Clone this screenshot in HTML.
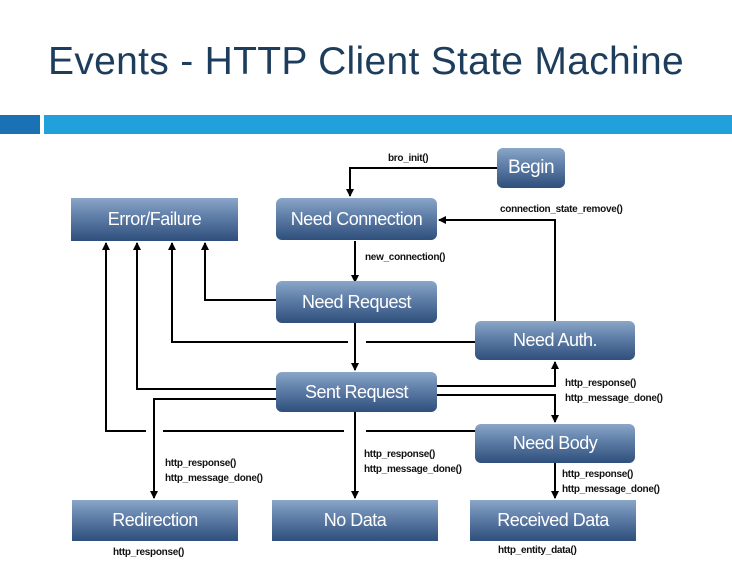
<!DOCTYPE html>
<html><head><style>
body{margin:0;width:732px;height:569px;background:#fff;position:relative;overflow:hidden;font-family:"Liberation Sans",sans-serif}
.t{position:absolute;left:0;width:732px;top:40px;text-align:center;font-size:39px;color:#1d3d5c;letter-spacing:0.3px}
.b{position:absolute;color:#fff;font-size:18px;display:flex;align-items:center;justify-content:center;background:linear-gradient(#8aa6c8,#5d7ca6 45%,#2f4f7c);box-sizing:border-box;letter-spacing:-0.5px}
.r{border-radius:6px}
.l{position:absolute;font-size:10px;font-weight:bold;color:#111;line-height:15px;letter-spacing:-0.3px}
</style></head><body>
<div class="t">Events - HTTP Client State Machine</div>
<div style="position:absolute;left:0;top:115px;width:40px;height:19px;background:#1a72b5"></div>
<div style="position:absolute;left:44px;top:115px;width:688px;height:19px;background:#22a0dc"></div>
<svg width="732" height="569" style="position:absolute;left:0;top:0">
<defs><marker id="a" markerWidth="8" markerHeight="8" refX="7" refY="4" orient="auto" markerUnits="userSpaceOnUse"><path d="M0,0 L8,4 L0,8 Z" fill="#000"/></marker></defs>
<g stroke="#000" stroke-width="2" fill="none">
<path d="M497,168 H350 V196" marker-end="url(#a)"/>
<path d="M355,241 V282" marker-end="url(#a)"/>
<path d="M555,321 V220 H439" marker-end="url(#a)"/>
<path d="M276,300 H205 V243" marker-end="url(#a)"/>
<path d="M475,342 H366 M348,342 H172 V243" marker-end="url(#a)"/>
<path d="M276,389 H137 V243" marker-end="url(#a)"/>
<path d="M475,431 H366 M344,431 H163 M146,431 H106 V243" marker-end="url(#a)"/>
<path d="M355,323 V370" marker-end="url(#a)"/>
<path d="M437,386 H555 V362" marker-end="url(#a)"/>
<path d="M437,395 H555 V422" marker-end="url(#a)"/>
<path d="M276,399 H154 V498" marker-end="url(#a)"/>
<path d="M355,412 V498" marker-end="url(#a)"/>
<path d="M555,463 V498" marker-end="url(#a)"/>
</g></svg>
<div class="b r" style="left:497px;top:148px;width:68px;height:40px;font-size:19px">Begin</div>
<div class="b r" style="left:276px;top:198px;width:161px;height:42px">Need Connection</div>
<div class="b" style="left:71px;top:198px;width:167px;height:43px">Error/Failure</div>
<div class="b r" style="left:276px;top:281px;width:161px;height:42px">Need Request</div>
<div class="b r" style="left:475px;top:321px;width:160px;height:39px">Need Auth.</div>
<div class="b r" style="left:276px;top:372px;width:161px;height:40px">Sent Request</div>
<div class="b r" style="left:475px;top:424px;width:160px;height:39px">Need Body</div>
<div class="b" style="left:72px;top:500px;width:166px;height:41px">Redirection</div>
<div class="b" style="left:272px;top:500px;width:166px;height:41px">No Data</div>
<div class="b" style="left:470px;top:500px;width:166px;height:41px">Received Data</div>
<div class="l" style="left:388px;top:151px">bro_init()</div>
<div class="l" style="left:500px;top:202px">connection_state_remove()</div>
<div class="l" style="left:365px;top:250px">new_connection()</div>
<div class="l" style="left:565px;top:376px">http_response()<br>http_message_done()</div>
<div class="l" style="left:165px;top:456px">http_response()<br>http_message_done()</div>
<div class="l" style="left:364px;top:447px">http_response()<br>http_message_done()</div>
<div class="l" style="left:562px;top:467px">http_response()<br>http_message_done()</div>
<div class="l" style="left:113px;top:545px">http_response()</div>
<div class="l" style="left:498px;top:543px">http_entity_data()</div>
</body></html>
